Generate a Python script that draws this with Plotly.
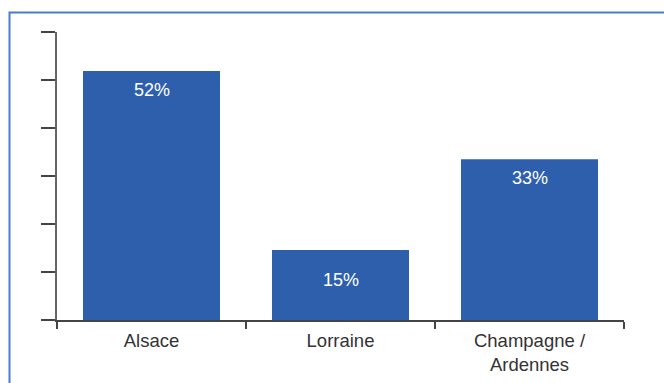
import plotly.graph_objects as go

categories = ["Alsace", "Lorraine", "Champagne /<br>Ardennes"]
values = [51.9, 14.6, 33.5]
labels = ["52%", "15%", "33%"]
label_shifts = [-7, -18, -7]

W, H = 664, 383
ml, mr, mt, mb = 57, 40, 32, 63
pw, ph = W - ml - mr, H - mt - mb

fig = go.Figure()
fig.add_trace(go.Bar(x=categories, y=values, width=0.725,
                     marker=dict(color="#2E5FAC", line=dict(width=0)),
                     hoverinfo="skip"))

for c, v, t, s in zip(categories, values, labels, label_shifts):
    fig.add_annotation(x=c, y=v, text=t, showarrow=False, yanchor="top",
                       yshift=s, font=dict(color="white", size=18,
                                            family="Liberation Sans, Arial"))

def px_x(x):
    return (x - ml) / pw

def px_y(y):
    return (H - mb - y) / ph

fig.add_shape(type="rect", xref="paper", yref="paper",
              x0=px_x(9.5), x1=px_x(900), y0=px_y(900), y1=px_y(12.5),
              line=dict(color="#4A7CCB", width=2), fillcolor="rgba(0,0,0,0)")

fig.update_layout(
    width=W, height=H, margin=dict(l=ml, r=mr, t=mt, b=mb, autoexpand=False),
    paper_bgcolor="white", plot_bgcolor="white", showlegend=False,
    font=dict(family="Liberation Sans, Arial", size=18.5, color="#333333"),
    bargap=0.275,
)
fig.update_xaxes(showline=True, linecolor="#444444", linewidth=1.5,
                 ticks="outside", ticklen=7, tickcolor="#444444", tickwidth=1.5,
                 tickson="boundaries", showgrid=False, zeroline=False,
                 ticklabelstandoff=3, automargin=False,
                 tickfont=dict(size=18.5, color="#333333"))
fig.update_yaxes(range=[0, 60], dtick=10, showline=True, linecolor="#666666",
                 linewidth=1.5, ticks="outside", ticklen=14, tickcolor="#444444",
                 tickwidth=1.5, showticklabels=False, showgrid=False, zeroline=False,
                 automargin=False)

fig.write_html("out.html")
